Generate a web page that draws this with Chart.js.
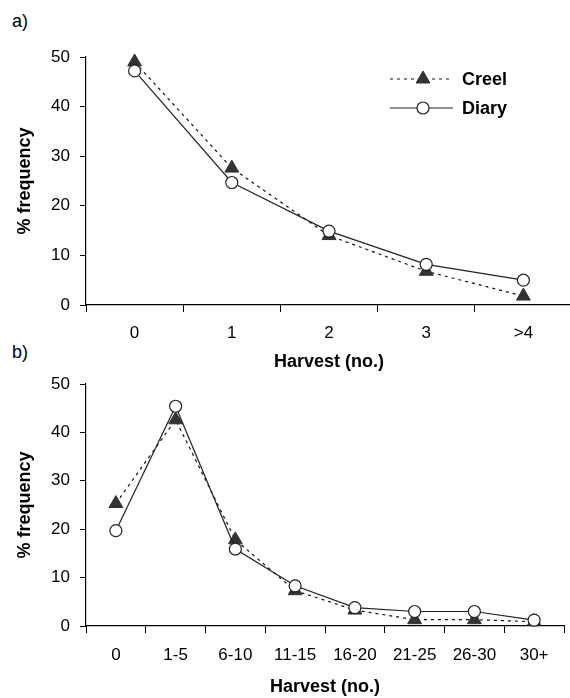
<!DOCTYPE html>
<html>
<head>
<meta charset="utf-8">
<script src="https://cdn.jsdelivr.net/npm/chart.js@4/dist/chart.umd.min.js"></script>
<style>
  html, body { margin: 0; padding: 0; background: #fff; overflow: hidden; }
  body { width: 570px; height: 698px; position: relative; }
  canvas { position: absolute; left: 0; }
  #chartA { top: 0; }
  #chartB { top: 340px; }
  .panel { position: absolute; left: 12px; font: 18px "Liberation Sans", Arial, sans-serif; color: #000; }
</style>
</head>
<body>
<div class="panel" style="top:11px">a)</div>
<div class="panel" style="top:342px">b)</div>
<canvas id="chartA" width="581" height="380"></canvas>
<canvas id="chartB" width="573" height="358"></canvas>
<script>
// ---- data ----
const topCats  = ['0', '1', '2', '3', '>4'];
const topCreel = [49, 27.6, 14, 6.8, 1.8];
const topDiary = [47.2, 24.7, 14.9, 8.2, 5.0];

const botCats  = ['0', '1-5', '6-10', '11-15', '16-20', '21-25', '26-30', '30+'];
const botCreel = [25.3, 42.6, 17.8, 7.3, 3.3, 1.3, 1.3, 0.9];
const botDiary = [19.7, 45.4, 15.9, 8.3, 3.8, 3.0, 3.0, 1.2];

const yTicks = [0, 10, 20, 30, 40, 50];

const FONT = '"Liberation Sans", Arial, sans-serif';

function creelSet(data) {
    return {
        label: 'Creel', data: data, order: 1,
        borderColor: '#111', borderWidth: 1.2, borderDash: [3, 4],
        pointStyle: 'triangle', pointRadius: 8,
        pointBackgroundColor: '#333', pointBorderColor: '#333', pointBorderWidth: 1,
        tension: 0, clip: false
    };
}
function diarySet(data) {
    return {
        label: 'Diary', data: data, order: 0,
        borderColor: '#222', borderWidth: 1.2,
        pointStyle: 'circle', pointRadius: 6,
        pointBackgroundColor: '#fff', pointBorderColor: '#222', pointBorderWidth: 1.2,
        tension: 0, clip: false
    };
}

// small legend drawn in the top panel
const legendPlugin = {
    id: 'creelLegend',
    afterDraw(chart) {
        const ctx = chart.ctx;
        const rows = [
            { y: 79, ds: chart.data.datasets[0] },
            { y: 108, ds: chart.data.datasets[1] }
        ];
        ctx.save();
        rows.forEach(r => {
            ctx.strokeStyle = r.ds.borderColor;
            ctx.lineWidth = r.ds.borderWidth;
            ctx.setLineDash(r.ds.borderDash || []);
            ctx.beginPath();
            ctx.moveTo(390, r.y);
            ctx.lineTo(453, r.y);
            ctx.stroke();
            ctx.setLineDash([]);
            ctx.fillStyle = r.ds.pointBackgroundColor;
            ctx.strokeStyle = r.ds.pointBorderColor;
            ctx.lineWidth = r.ds.pointBorderWidth;
            Chart.helpers.drawPoint(ctx, {
                pointStyle: r.ds.pointStyle, radius: r.ds.pointRadius,
                rotation: 0, borderWidth: r.ds.pointBorderWidth
            }, 423, r.y);
            ctx.fillStyle = '#000';
            ctx.font = 'bold 18px ' + FONT;
            ctx.textBaseline = 'middle';
            ctx.textAlign = 'left';
            ctx.fillText(r.ds.label, 462, r.y + 1);
        });
        ctx.restore();
    }
};

function makeChart(id, cats, creel, diary, opts) {
    const canvas = document.getElementById(id);
    return new Chart(canvas.getContext('2d'), {
        type: 'line',
        data: { labels: cats, datasets: [creelSet(creel), diarySet(diary)] },
        options: {
            responsive: false,
            animation: false,
            layout: { padding: { top: opts.top, left: 0, right: 0, bottom: 0 } },
            plugins: { legend: { display: false }, tooltip: { enabled: false } },
            scales: {
                x: {
                    type: 'category',
                    offset: true,
                    grid: { offset: true, drawOnChartArea: false, drawTicks: true, tickLength: 7, color: '#000' },
                    border: { display: true, color: '#000', width: 1.2 },
                    ticks: { color: '#000', padding: opts.labelPad, maxRotation: 0, autoSkip: false,
                             font: { family: FONT, size: 17 } },
                    title: { display: true, text: 'Harvest (no.)', color: '#000',
                             font: { family: FONT, size: 18, weight: 'bold' },
                             padding: { top: 0, bottom: opts.titlePad } },
                    afterFit: s => { s.height = opts.xHeight; }
                },
                y: {
                    min: 0, max: 50,
                    afterBuildTicks: s => { s.ticks = yTicks.map(v => ({ value: v })); },
                    grid: { drawOnChartArea: false, drawTicks: true, tickLength: 6, color: '#000' },
                    border: { display: true, color: '#000', width: 1.2 },
                    ticks: { color: '#000', padding: 10, font: { family: FONT, size: 17 } },
                    title: { display: true, text: '% frequency', color: '#000',
                             font: { family: FONT, size: 18, weight: 'bold' },
                             padding: { top: 14, bottom: 0 } },
                    afterFit: s => { s.width = 86; }
                }
            }
        },
        plugins: opts.legend ? [legendPlugin] : []
    });
}

makeChart('chartA', topCats, topCreel, topDiary,
    { top: 57, xHeight: 75, labelPad: 11, titlePad: 7, legend: true });
makeChart('chartB', botCats, botCreel, botDiary,
    { top: 44, xHeight: 72, labelPad: 12, titlePad: 0, legend: false });
</script>
</body>
</html>
